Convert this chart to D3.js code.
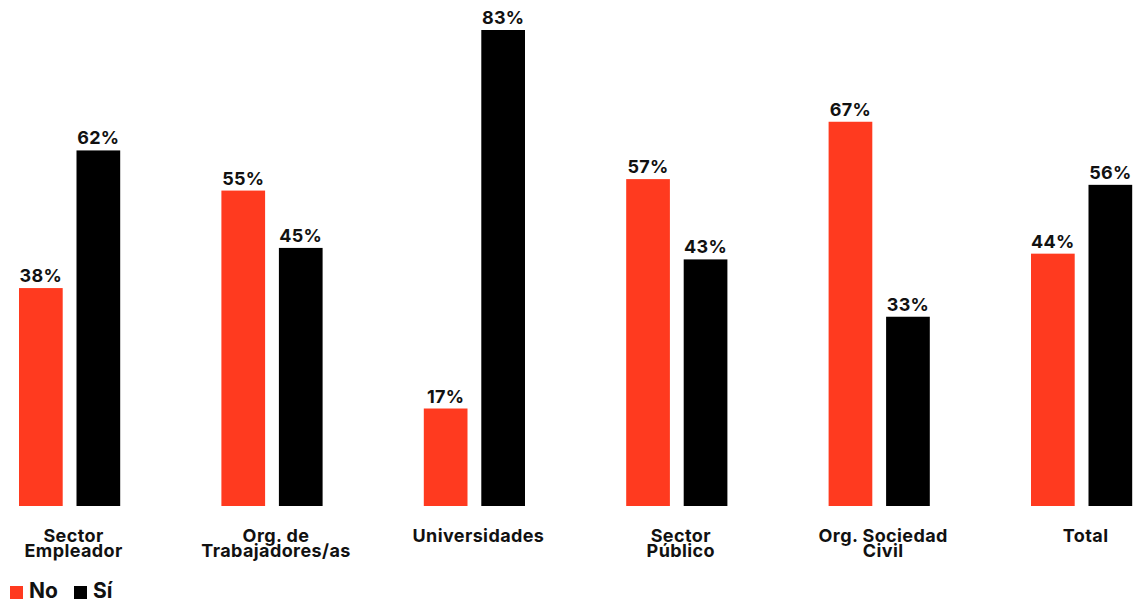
<!DOCTYPE html>
<html>
<head>
<meta charset="utf-8">
<script src="https://cdn.jsdelivr.net/npm/d3@7"></script>
<style>
  html, body { margin: 0; padding: 0; background: #fff; }
  svg { display: block; font-family: "Inter", "DejaVu Sans", sans-serif; }
</style>
</head>
<body>
<svg id="chart" width="1136" height="602"></svg>
<script>
// Categories (each label may span two lines)
const categories = ["Sector Empleador", "Org. de Trabajadores/as", "Universidades", "Sector Público", "Org. Sociedad Civil", "Total"];
const categoryLines = [["Sector", "Empleador"], ["Org. de", "Trabajadores/as"], ["Universidades"], ["Sector", "Público"], ["Org. Sociedad", "Civil"], ["Total"]];
const seriesNames = ["No", "Sí"];
const noValues = [38, 55, 17, 57, 67, 44];
const siValues = [62, 45, 83, 43, 33, 56];
const colors = ["#ff3a1f", "#000000"];

const svg = d3.select("#chart");
const baseline = 506;
const maxPct = 83;
const topY = 30;

const x0 = d3.scaleBand()
  .domain(categories)
  .range([-31.6, 1182.8])
  .paddingInner(0.5)
  .paddingOuter(0.25);

const x1 = d3.scaleBand()
  .domain(seriesNames)
  .range([0, x0.bandwidth()])
  .paddingInner(0.24);

const y = d3.scaleLinear()
  .domain([0, maxPct])
  .range([baseline, topY]);

const rows = categories.map((c, i) => ({
  category: c,
  lines: categoryLines[i],
  values: [
    { key: "No", value: noValues[i] },
    { key: "Sí", value: siValues[i] }
  ]
}));

const color = d3.scaleOrdinal().domain(seriesNames).range(colors);

const groups = svg.selectAll("g.group")
  .data(rows)
  .join("g")
  .attr("class", "group")
  .attr("transform", d => `translate(${x0(d.category)},0)`);

groups.selectAll("rect")
  .data(d => d.values)
  .join("rect")
  .attr("x", d => x1(d.key))
  .attr("y", d => y(d.value))
  .attr("width", x1.bandwidth())
  .attr("height", d => baseline - y(d.value))
  .attr("fill", d => color(d.key));

groups.selectAll("text.value")
  .data(d => d.values)
  .join("text")
  .attr("class", "value")
  .attr("x", d => x1(d.key) + x1.bandwidth() / 2)
  .attr("y", d => y(d.value) - 6)
  .attr("text-anchor", "middle")
  .attr("font-size", 18)
  .attr("font-weight", 700)
  .attr("letter-spacing", 0.3)
  .attr("fill", "#111")
  .text(d => d.value + "%");

// Category labels under each group
const labelX = x0.bandwidth() / 2 + 4;
groups.append("text")
  .attr("class", "cat")
  .attr("x", labelX)
  .attr("y", 542)
  .attr("text-anchor", "middle")
  .attr("font-size", 18)
  .attr("font-weight", 700)
  .attr("letter-spacing", 0.4)
  .attr("fill", "#111")
  .selectAll("tspan")
  .data(d => d.lines)
  .join("tspan")
  .attr("x", labelX)
  .attr("dy", (d, i) => i === 0 ? 0 : 15)
  .text(d => d);

// Legend
const legend = svg.append("g").attr("class", "legend");
const legendX = [10, 74];
seriesNames.forEach((name, i) => {
  const g = legend.append("g").attr("transform", `translate(${legendX[i]},0)`);
  g.append("rect")
    .attr("x", 0).attr("y", 586)
    .attr("width", 13).attr("height", 13)
    .attr("fill", color(name));
  g.append("text")
    .attr("x", 19).attr("y", 598)
    .attr("font-size", 21)
    .attr("font-weight", 700)
    .attr("fill", "#111")
    .text(name);
});
</script>
</body>
</html>
